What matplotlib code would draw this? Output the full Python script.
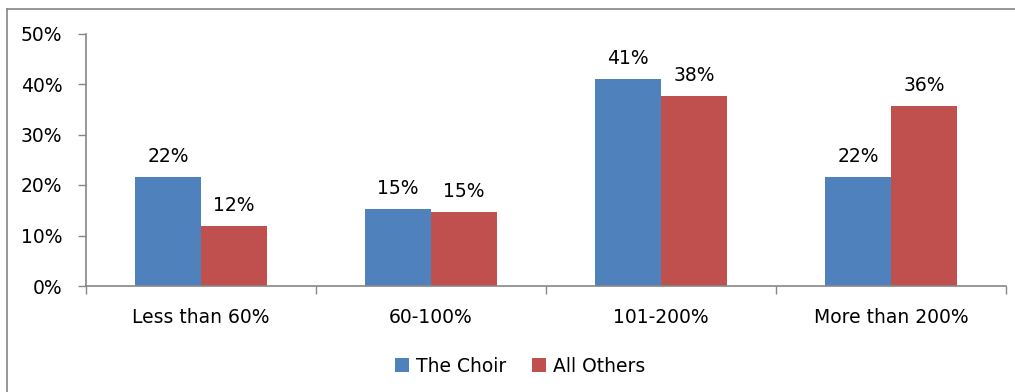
import numpy as np
import matplotlib
matplotlib.use("Agg")
import matplotlib.pyplot as plt
from matplotlib.ticker import FuncFormatter
from matplotlib.lines import Line2D

# Income bands and share of respondents in each (percent)
categories = ["Less than 60%", "60-100%", "101-200%", "More than 200%"]
choir = [21.6, 15.2, 40.9, 21.6]
others = [11.9, 14.7, 37.6, 35.6]
series_names = ["The Choir", "All Others"]

BLUE = "#4F81BD"
RED = "#C0504D"
AXIS = "#868686"

plt.rcParams.update({
    "font.family": ["DejaVu Sans"],
    "font.size": 13.5,
})

fig = plt.figure(figsize=(10.15, 3.92), dpi=100)
ax = fig.add_axes([86 / 1015, 1 - 286 / 392, 920 / 1015, 252.5 / 392])

x = np.arange(len(categories))
w = 0.287
b1 = ax.bar(x - w / 2, choir, w, color=BLUE, label=series_names[0])
b2 = ax.bar(x + w / 2, others, w, color=RED, label=series_names[1])
ax.bar_label(b1, labels=[f"{v:.0f}%" for v in choir], padding=8)
ax.bar_label(b2, labels=[f"{v:.0f}%" for v in others], padding=8)

ax.set_xlim(-0.5, len(categories) - 0.5)
ax.set_ylim(0, 50)
ax.set_yticks(range(0, 51, 10))
ax.yaxis.set_major_formatter(FuncFormatter(lambda v, _: f"{v:.0f}%"))

# category names sit between the boundary ticks
ax.set_xticks(np.arange(-0.5, len(categories), 1.0))
ax.set_xticklabels([])
ax.set_xticks(x, minor=True)
ax.set_xticklabels(categories, minor=True)
ax.tick_params(axis="x", which="minor", length=0, pad=16)
ax.tick_params(axis="x", which="major", length=6, color=AXIS, width=1)
ax.tick_params(axis="y", length=6, color=AXIS, width=1, pad=11)

for side in ("top", "right"):
    ax.spines[side].set_visible(False)
for side in ("left", "bottom"):
    ax.spines[side].set_color(AXIS)
    ax.spines[side].set_linewidth(1.2)

fig.legend(handles=[b1, b2], loc="center", bbox_to_anchor=(520 / 1015, 1 - 366 / 392),
           ncol=2, frameon=False, handlelength=0.75, handleheight=0.75,
           handletextpad=0.35, columnspacing=1.4)

# outer chart frame (top and left edges)
fig.add_artist(Line2D([7 / 1015, 1], [1 - 9 / 392, 1 - 9 / 392],
                      transform=fig.transFigure, color=AXIS, lw=1.2))
fig.add_artist(Line2D([7 / 1015, 7 / 1015], [0, 1 - 9 / 392],
                      transform=fig.transFigure, color=AXIS, lw=1.2))

fig.savefig("out.png", dpi=100)
